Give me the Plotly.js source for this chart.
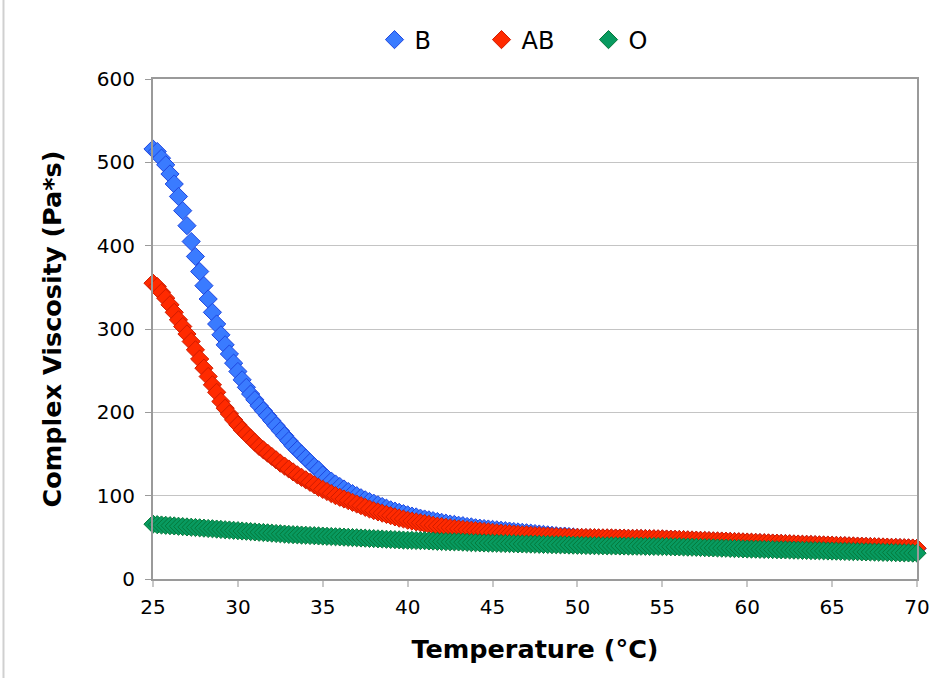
<!DOCTYPE html>
<html>
<head>
<meta charset="utf-8">
<script src="https://cdn.plot.ly/plotly-3.0.1.min.js"></script>
<style>
  html, body { margin: 0; padding: 0; background: #ffffff; }
  #chart { width: 944px; height: 678px; }
</style>
</head>
<body>
<div id="chart"></div>
<script>
// Temperature (°C)
const temperature = [
  25, 25.25, 25.5, 25.75,
  26, 26.25, 26.5, 26.75,
  27, 27.25, 27.5, 27.75,
  28, 28.25, 28.5, 28.75,
  29, 29.25, 29.5, 29.75,
  30, 30.25, 30.5, 30.75,
  31, 31.25, 31.5, 31.75,
  32, 32.25, 32.5, 32.75,
  33, 33.25, 33.5, 33.75,
  34, 34.25, 34.5, 34.75,
  35, 35.25, 35.5, 35.75,
  36, 36.25, 36.5, 36.75,
  37, 37.25, 37.5, 37.75,
  38, 38.25, 38.5, 38.75,
  39, 39.25, 39.5, 39.75,
  40, 40.25, 40.5, 40.75,
  41, 41.25, 41.5, 41.75,
  42, 42.25, 42.5, 42.75,
  43, 43.25, 43.5, 43.75,
  44, 44.25, 44.5, 44.75,
  45, 45.25, 45.5, 45.75,
  46, 46.25, 46.5, 46.75,
  47, 47.25, 47.5, 47.75,
  48, 48.25, 48.5, 48.75,
  49, 49.25, 49.5, 49.75,
  50, 50.25, 50.5, 50.75,
  51, 51.25, 51.5, 51.75,
  52, 52.25, 52.5, 52.75,
  53, 53.25, 53.5, 53.75,
  54, 54.25, 54.5, 54.75,
  55, 55.25, 55.5, 55.75,
  56, 56.25, 56.5, 56.75,
  57, 57.25, 57.5, 57.75,
  58, 58.25, 58.5, 58.75,
  59, 59.25, 59.5, 59.75,
  60, 60.25, 60.5, 60.75,
  61, 61.25, 61.5, 61.75,
  62, 62.25, 62.5, 62.75,
  63, 63.25, 63.5, 63.75,
  64, 64.25, 64.5, 64.75,
  65, 65.25, 65.5, 65.75,
  66, 66.25, 66.5, 66.75,
  67, 67.25, 67.5, 67.75,
  68, 68.25, 68.5, 68.75,
  69, 69.25, 69.5, 69.75,
  70
];

// Complex viscosity (Pa*s), series B
const viscB = [
  516, 513, 505, 497,
  486, 474, 459, 442,
  424, 405, 387, 369,
  352, 336, 320, 306,
  293, 281, 270, 259,
  249, 239, 230, 222,
  215, 208, 202, 196,
  190, 184, 178, 172,
  166, 160, 155, 150,
  145, 140, 135, 131,
  125, 121, 117.5, 114,
  111, 108, 105, 102.5,
  100, 97.5, 95, 93,
  91, 89, 87, 85,
  83, 81.5, 80, 78.5,
  77, 75.5, 74.5, 73,
  72, 71, 70, 69,
  68, 67, 66, 65.5,
  64.5, 64, 63, 62.5,
  61.5, 61, 60.5, 60,
  59.5, 59, 58.5, 58,
  57.5, 57, 56.5, 56,
  55.5, 55, 54.5, 54,
  53.5, 53, 52.5, 52,
  51.5, 51.5, 51, 50.5,
  50, 49.6, 49.4, 49.3,
  49.2, 49.1, 49.0, 49.0,
  48.9, 48.8, 48.7, 48.6,
  48.5, 48.4, 48.3, 48.3,
  48.2, 48.1, 48.0, 47.9,
  47.8, 47.6, 47.4, 47.3,
  47.1, 46.9, 46.7, 46.5,
  46.3, 46.1, 45.9, 45.7,
  45.5, 45.3, 45.2, 45.0,
  44.8, 44.6, 44.4, 44.2,
  44.0, 43.8, 43.6, 43.4,
  43.2, 43.0, 42.8, 42.6,
  42.4, 42.2, 42.0, 41.8,
  41.6, 41.4, 41.3, 41.1,
  40.9, 40.7, 40.5, 40.4,
  40.2, 40.0, 39.8, 39.7,
  39.5, 39.3, 39.1, 39.0,
  38.8, 38.6, 38.4, 38.3,
  38.1, 37.9, 37.7, 37.6,
  37.4, 37.2, 37.0, 36.8,
  36.6
];

// Complex viscosity (Pa*s), series AB
const viscAB = [
  355, 351, 344, 337,
  329, 320, 311, 303,
  294, 285, 275, 264,
  253, 243, 233, 224,
  213, 205, 198, 191,
  185, 179, 174, 169,
  164, 159, 155, 151,
  147, 143, 139, 135.5,
  132, 128.5, 125, 122,
  119, 116, 113, 110,
  107.5, 105, 102.5, 100,
  98, 96, 94, 92,
  90, 88, 86, 84,
  82, 80.5, 79, 77.5,
  76, 74.5, 73, 72,
  70.5, 69.5, 68.5, 67.5,
  66.5, 65.5, 64.5, 63.5,
  63, 62, 61.5, 60.5,
  60, 59.5, 59, 58.5,
  58, 57.5, 57, 56.5,
  56, 55.5, 55, 54.5,
  54.5, 54, 53.5, 53,
  53, 52.5, 52, 52,
  51.5, 51.5, 51, 51,
  50.5, 50.5, 50, 50,
  50, 49.9, 49.8, 49.7,
  49.6, 49.5, 49.4, 49.4,
  49.3, 49.2, 49.1, 49.0,
  48.9, 48.8, 48.7, 48.7,
  48.6, 48.5, 48.4, 48.3,
  48.2, 48.0, 47.8, 47.7,
  47.5, 47.3, 47.1, 46.9,
  46.7, 46.5, 46.3, 46.1,
  45.9, 45.7, 45.6, 45.4,
  45.2, 45.0, 44.8, 44.6,
  44.4, 44.2, 44.0, 43.8,
  43.6, 43.4, 43.2, 43.0,
  42.8, 42.6, 42.4, 42.2,
  42.0, 41.8, 41.7, 41.5,
  41.3, 41.1, 40.9, 40.8,
  40.6, 40.4, 40.2, 40.1,
  39.9, 39.7, 39.5, 39.4,
  39.2, 39.0, 38.8, 38.7,
  38.5, 38.3, 38.1, 38.0,
  37.8, 37.6, 37.4, 37.2,
  37.0
];

// Complex viscosity (Pa*s), series O
const viscO = [
  65.8, 65.2, 64.8, 64.4,
  64.0, 63.7, 63.3, 62.9,
  62.5, 62.1, 61.8, 61.4,
  61.0, 60.6, 60.3, 59.9,
  59.5, 59.1, 58.8, 58.4,
  58.0, 57.6, 57.3, 56.9,
  56.5, 56.1, 55.8, 55.4,
  55.0, 54.6, 54.3, 53.9,
  53.5, 53.2, 53.0, 52.7,
  52.5, 52.2, 52.0, 51.7,
  51.5, 51.2, 51.0, 50.7,
  50.5, 50.2, 50.0, 49.7,
  49.5, 49.2, 49.0, 48.7,
  48.5, 48.2, 48.0, 47.7,
  47.5, 47.2, 47.0, 46.7,
  46.5, 46.4, 46.2, 46.1,
  46.0, 45.7, 45.5, 45.2,
  45.0, 44.9, 44.7, 44.6,
  44.5, 44.2, 44.0, 43.7,
  43.5, 43.4, 43.2, 43.1,
  43.0, 42.9, 42.7, 42.6,
  42.5, 42.4, 42.2, 42.1,
  42.0, 41.9, 41.7, 41.6,
  41.5, 41.4, 41.2, 41.1,
  41.0, 40.9, 40.7, 40.6,
  40.5, 40.4, 40.2, 40.1,
  40.0, 39.9, 39.9, 39.8,
  39.8, 39.7, 39.6, 39.6,
  39.5, 39.4, 39.3, 39.3,
  39.2, 39.1, 39.1, 39.0,
  39.0, 38.9, 38.7, 38.6,
  38.5, 38.4, 38.2, 38.1,
  38.0, 37.8, 37.6, 37.5,
  37.3, 37.2, 37.0, 36.9,
  36.7, 36.5, 36.4, 36.2,
  36.0, 35.9, 35.8, 35.6,
  35.5, 35.4, 35.3, 35.1,
  35.0, 34.9, 34.8, 34.6,
  34.5, 34.4, 34.3, 34.1,
  34.0, 33.9, 33.8, 33.6,
  33.5, 33.4, 33.3, 33.1,
  33.0, 32.9, 32.8, 32.6,
  32.5, 32.4, 32.3, 32.1,
  32.0, 31.9, 31.8, 31.6,
  31.5, 31.4, 31.3, 31.1,
  31.0
];

const seriesNames = ["B", "AB", "O"];
const xTickVals = [25, 30, 35, 40, 45, 50, 55, 60, 65, 70];
const yTickVals = [0, 100, 200, 300, 400, 500, 600];

const fillColors = ["#3A7BFF", "#FF2A00", "#089A60"];
const edgeColors = ["#1F47E0", "#D01C00", "#05793A"];
const seriesValues = [viscB, viscAB, viscO];

const traces = seriesValues.map((vals, i) => ({
  type: "scatter",
  mode: "markers",
  name: seriesNames[i],
  x: temperature,
  y: vals,
  marker: {
    symbol: "diamond",
    size: 14,
    color: fillColors[i],
    line: { color: edgeColors[i], width: 1 }
  },
  cliponaxis: false,
  hoverinfo: "x+y+name"
}));

const font = "DejaVu Sans, Verdana, sans-serif";
const axisColor = "#9a9a9a";

const layout = {
  width: 944,
  height: 678,
  paper_bgcolor: "#ffffff",
  plot_bgcolor: "#ffffff",
  margin: { l: 153, r: 27, t: 79, b: 99, pad: 0 },
  font: { family: font, color: "#000000" },
  showlegend: true,
  legend: {
    orientation: "h",
    x: 0.50,
    xanchor: "center",
    y: 1.078,
    yanchor: "middle",
    font: { family: font, size: 24, color: "#000000" },
    entrywidthmode: "pixels",
    entrywidth: 62,
    bgcolor: "rgba(0,0,0,0)"
  },
  xaxis: {
    range: [25, 70],
    tickvals: xTickVals,
    ticktext: xTickVals.map(String),
    ticks: "outside",
    ticklen: 6,
    tickwidth: 2,
    tickcolor: "#c8c8c8",
    showline: true,
    linecolor: axisColor,
    linewidth: 2,
    mirror: true,
    showgrid: false,
    zeroline: false,
    tickfont: { family: font, size: 20, color: "#000000" },
    ticklabelstandoff: 3,
    title: {
      text: "<b>Temperature (°C)</b>",
      font: { family: font, size: 25.5, color: "#000000" },
      standoff: 22
    }
  },
  yaxis: {
    range: [0, 600],
    tickvals: yTickVals,
    ticktext: yTickVals.map(String),
    ticks: "outside",
    ticklen: 6,
    tickwidth: 1,
    tickcolor: axisColor,
    showline: true,
    linecolor: axisColor,
    linewidth: 2,
    mirror: true,
    showgrid: true,
    gridcolor: "#c4c4c4",
    gridwidth: 1,
    zeroline: false,
    tickfont: { family: font, size: 20, color: "#000000" },
    ticklabelstandoff: 6,
    title: {
      text: "<b>Complex Viscosity (Pa*s)</b>",
      font: { family: font, size: 25.5, color: "#000000" },
      standoff: 28
    }
  },
  shapes: [
    {
      type: "line",
      xref: "paper", yref: "paper",
      x0: -0.1957, x1: -0.1957,
      y0: -0.198, y1: 1.158,
      line: { color: "#d0d0d0", width: 2 }
    }
  ]
};

Plotly.newPlot("chart", traces, layout, { displayModeBar: false, staticPlot: true });
</script>
</body>
</html>
